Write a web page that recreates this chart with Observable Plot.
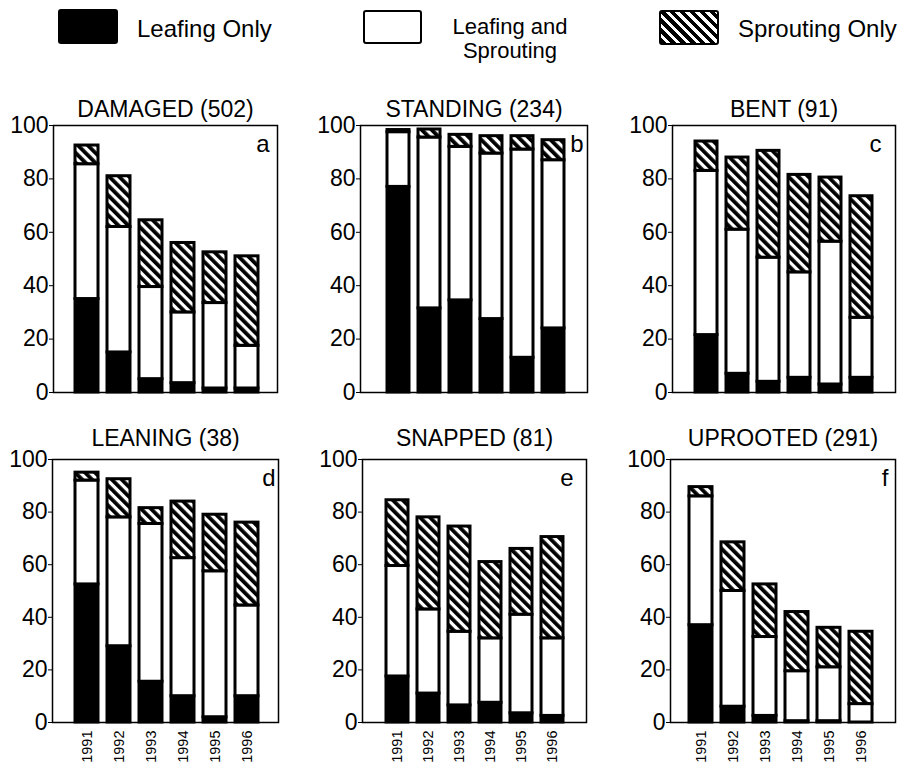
<!DOCTYPE html>
<html><head><meta charset="utf-8">
<script src="https://cdn.jsdelivr.net/npm/d3@7"></script>
<script src="https://cdn.jsdelivr.net/npm/@observablehq/plot@0.6"></script>
<style>
body{margin:0;background:#fff;font-family:"Liberation Sans",Arial,Helvetica,sans-serif;}
#root{position:relative;width:904px;height:764px;overflow:hidden;background:#fff;}
.panel{position:absolute;}
.lg{position:absolute;font-size:24px;line-height:20px;color:#000;white-space:nowrap;}
.box{position:absolute;box-sizing:border-box;border-radius:3px;}
</style></head><body>
<svg width="0" height="0" style="position:absolute">
<defs><pattern id="hatch" patternUnits="userSpaceOnUse" width="7" height="7" patternTransform="rotate(-45)">
<rect width="7" height="7" fill="white"/><rect width="3.8" height="7" fill="black"/></pattern></defs></svg>
<div id="root">
  <div class="box" style="left:58px;top:9px;width:60px;height:35px;background:#000;"></div>
  <div class="lg" style="left:137px;top:19px;">Leafing Only</div>
  <div class="box" style="left:363px;top:10px;width:59px;height:34px;border:2.5px solid #000;background:#fff;"></div>
  <div class="lg" style="left:446px;top:15px;width:128px;text-align:center;font-size:22px;line-height:23px;">Leafing and</div>
  <div class="lg" style="left:446px;top:39px;width:128px;text-align:center;font-size:22px;line-height:23px;">Sprouting</div>
  <div class="box" style="left:659px;top:10px;width:60px;height:35px;border:2.5px solid #000;background:repeating-linear-gradient(45deg,#000 0 3.8px,#fff 3.8px 7px);"></div>
  <div class="lg" style="left:738px;top:19px;">Sprouting Only</div>
</div>
<script>
// ---- data ----
const years = ["1991", "1992", "1993", "1994", "1995", "1996"];
const categories = ["Leafing Only", "Leafing and Sprouting", "Sprouting Only"];
const panelTitles = ["DAMAGED (502)", "STANDING (234)", "BENT (91)", "LEANING (38)", "SNAPPED (81)", "UPROOTED (291)"];
const panelLetters = ["a", "b", "c", "d", "e", "f"];
const yTicks = [0, 20, 40, 60, 80, 100];
// percent of trees per category, one row per panel, one value per year
const leafingOnly = [
  [35, 15, 5, 3.5, 1.5, 1.5],
  [77, 31.5, 34.5, 27.5, 13, 24],
  [21.5, 7, 4, 5.5, 3, 5.5],
  [52.5, 29, 15.5, 10, 2, 10],
  [17.5, 11, 6.5, 7.5, 3.5, 2.5],
  [37, 6, 2.5, 0.5, 0.5, 0]
];
const leafingAndSprouting = [
  [50.5, 47, 34.5, 26.5, 32, 16],
  [20.5, 64, 57.5, 62, 78, 63],
  [61.5, 54, 46.5, 39.5, 53.5, 22.5],
  [39.5, 49, 60, 52.5, 55.5, 34.5],
  [42, 32, 28, 24.5, 37.5, 29.5],
  [49, 44, 30, 19, 20.5, 7]
];
const sproutingOnly = [
  [7, 19, 25, 26, 19, 33.5],
  [0.8, 3, 4.5, 6.5, 5, 7.5],
  [11, 27, 40, 36.5, 24, 45.5],
  [3, 14.5, 6, 21.5, 21.5, 31.5],
  [25, 35, 40, 29, 25, 38.5],
  [3.5, 18.5, 20, 22.5, 15, 27.5]
];

// ---- layout (positions only) ----
const layout = [
  {left: 0,   top: 80,  width: 300, height: 320, ml: 53, mr: 23, mt: 45, mb: 8,  il: 22, ir: 18, ldx: -8,  tdy: -25, xAxis: false},
  {left: 300, top: 80,  width: 300, height: 320, ml: 60, mr: 13, mt: 45, mb: 8,  il: 25, ir: 21, ldx: -4,  tdy: -25, xAxis: false},
  {left: 600, top: 80,  width: 304, height: 320, ml: 72, mr: 9,  mt: 45, mb: 8,  il: 20, ir: 20, ldx: -14, tdy: -25, xAxis: false},
  {left: 0,   top: 410, width: 300, height: 354, ml: 52, mr: 22, mt: 49, mb: 42, il: 23, ir: 19, ldx: -3,  tdy: -30, xAxis: true},
  {left: 300, top: 410, width: 300, height: 354, ml: 62, mr: 14, mt: 49, mb: 42, il: 22, ir: 21, ldx: -13, tdy: -30, xAxis: true},
  {left: 600, top: 410, width: 304, height: 354, ml: 70, mr: 9,  mt: 49, mb: 42, il: 19, ir: 22, ldx: -7,  tdy: -30, xAxis: true}
];

const root = document.getElementById("root");
const series = [leafingOnly, leafingAndSprouting, sproutingOnly];

panelTitles.forEach((title, p) => {
  const L = layout[p];
  const rows = [];
  years.forEach((yr, i) => {
    categories.forEach((c, k) => rows.push({year: yr, category: c, value: series[k][p][i]}));
  });
  const marks = [
    Plot.barY(rows, {x: "year", y: "value", fill: "category", stroke: "black", strokeWidth: 3}),
    Plot.frame({stroke: "black", strokeWidth: 1.5}),
    Plot.axisY({ticks: yTicks, tickSize: 4, tickPadding: 1, fontSize: 23, label: null}),
    Plot.text([title], {frameAnchor: "top", dy: L.tdy, fontSize: 23, text: d => d}),
    Plot.text([panelLetters[p]], {frameAnchor: "top-right", textAnchor: "end", lineAnchor: "top", dx: L.ldx, dy: 9, fontSize: 24, text: d => d})
  ];
  if (L.xAxis) marks.push(Plot.axisX({tickRotate: -90, tickSize: 0, tickPadding: 8, fontSize: 14.5, label: null}));
  const chart = Plot.plot({
    width: L.width, height: L.height,
    marginLeft: L.ml, marginRight: L.mr, marginTop: L.mt, marginBottom: L.mb,
    style: {fontFamily: "'Liberation Sans', Arial, sans-serif", fontSize: "23px", color: "black", background: "transparent", overflow: "visible"},
    x: {domain: years, paddingInner: 0.28, paddingOuter: 0, insetLeft: L.il, insetRight: L.ir, axis: null},
    y: {domain: [0, 100], axis: null},
    color: {domain: categories, range: ["black", "white", "url(#hatch)"]},
    marks
  });
  chart.classList.add("panel");
  chart.style.left = L.left + "px";
  chart.style.top = L.top + "px";
  root.appendChild(chart);
});
</script>
</body></html>
